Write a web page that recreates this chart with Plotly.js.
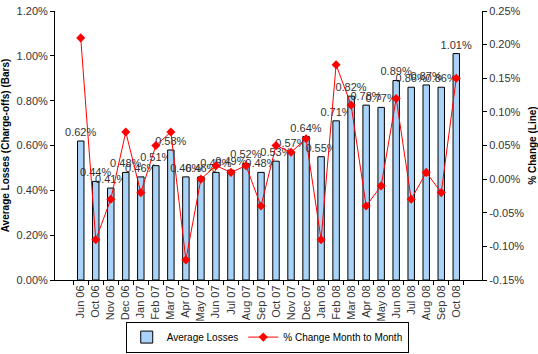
<!DOCTYPE html>
<html>
<head>
<meta charset="utf-8">
<script src="https://cdn.plot.ly/plotly-3.0.1.min.js"></script>
<style>html,body{margin:0;padding:0;background:#fff;}#chart{width:538px;height:354px;}</style>
</head>
<body>
<div id="chart"></div>
<script>
var months = ["Jun 06","Oct 06","Nov 06","Dec 06","Jan 07","Feb 07","Mar 07","Apr 07","May 07","Jun 07","Jul 07","Aug 07","Sep 07","Oct 07","Nov 07","Dec 07","Jan 08","Feb 08","Mar 08","Apr 08","May 08","Jun 08","Jul 08","Aug 08","Sep 08","Oct 08"];
var avgLosses = [0.62,0.44,0.41,0.48,0.46,0.51,0.58,0.46,0.46,0.48,0.49,0.52,0.48,0.53,0.57,0.64,0.55,0.71,0.82,0.78,0.77,0.89,0.86,0.87,0.86,1.01];
var pctChange = [0.21,-0.09,-0.03,0.07,-0.02,0.05,0.07,-0.12,0.00,0.02,0.01,0.02,-0.04,0.05,0.04,0.06,-0.09,0.17,0.11,-0.04,-0.01,0.12,-0.03,0.01,-0.02,0.15];
var leftTickVals = [0,0.2,0.4,0.6,0.8,1.0,1.2];
var leftTickText = ["0.00%","0.20%","0.40%","0.60%","0.80%","1.00%","1.20%"];
var rightTickVals = [-0.15,-0.10,-0.05,0,0.05,0.10,0.15,0.20,0.25];
var rightTickText = ["-0.15%","-0.10%","-0.05%","0.00%","0.05%","0.10%","0.15%","0.20%","0.25%"];

var barLabels = avgLosses.map(function(v){return v.toFixed(2)+"%";});

var traces = [
  {
    type:"bar", name:"Average Losses", x:months, y:avgLosses,
    marker:{color:"#A9D3F8", line:{color:"#000", width:1}},
    text:barLabels, textposition:"outside", constraintext:"none", cliponaxis:false,
    textfont:{family:"Liberation Sans, Arial", size:11, color:"#333"},
    hoverinfo:"x+y"
  },
  {
    type:"scatter", mode:"lines+markers", name:"% Change Month to Month",
    x:months, y:pctChange, yaxis:"y2",
    line:{color:"#FF0000", width:1},
    marker:{symbol:"diamond", size:7, color:"#FF0000"},
    cliponaxis:false
  }
];

var tickFont = {family:"Liberation Sans, Arial", size:11, color:"#333"};
var layout = {
  width:538, height:354,
  margin:{l:55, r:56, t:11, b:74},
  paper_bgcolor:"#fff", plot_bgcolor:"#fff",
  showlegend:true,
  bargap:0.57,
  font:{family:"Liberation Sans, Arial", size:10, color:"#000"},
  xaxis:{
    type:"category", tickangle:-90, tickfont:tickFont,
    showline:true, linecolor:"#000", linewidth:1,
    ticks:"outside", tickson:"boundaries", ticklen:4, tickcolor:"#000",
    showgrid:false, zeroline:false, automargin:false
  },
  yaxis:{
    range:[0,1.2], tickvals:leftTickVals, ticktext:leftTickText, tickfont:tickFont,
    showline:true, linecolor:"#000", linewidth:1,
    ticks:"outside", ticklen:4, tickcolor:"#000",
    showgrid:false, zeroline:false, automargin:false,
    title:{text:"Average Losses (Charge-offs) (Bars)", font:{family:"Liberation Sans, Arial", size:10, color:"#000", weight:"bold"}, standoff:6}
  },
  yaxis2:{
    overlaying:"y", side:"right",
    range:[-0.15,0.25], tickvals:rightTickVals, ticktext:rightTickText, tickfont:tickFont,
    showline:true, linecolor:"#000", linewidth:1,
    ticks:"outside", ticklen:4, tickcolor:"#000",
    showgrid:false, zeroline:false, automargin:false,
    title:{text:"% Change (Line)", font:{family:"Liberation Sans, Arial", size:10, color:"#000", weight:"bold"}, standoff:6}
  },
  legend:{
    orientation:"h", x:0.497, xanchor:"center", xref:"paper",
    y:0.004, yanchor:"bottom", yref:"container",
    bordercolor:"#000", borderwidth:1, bgcolor:"#fff",
    font:{family:"Liberation Sans, Arial", size:10, color:"#000"},
    itemwidth:30, tracegroupgap:0
  }
};
Plotly.newPlot("chart", traces, layout, {displayModeBar:false, staticPlot:true});
</script>
</body>
</html>
